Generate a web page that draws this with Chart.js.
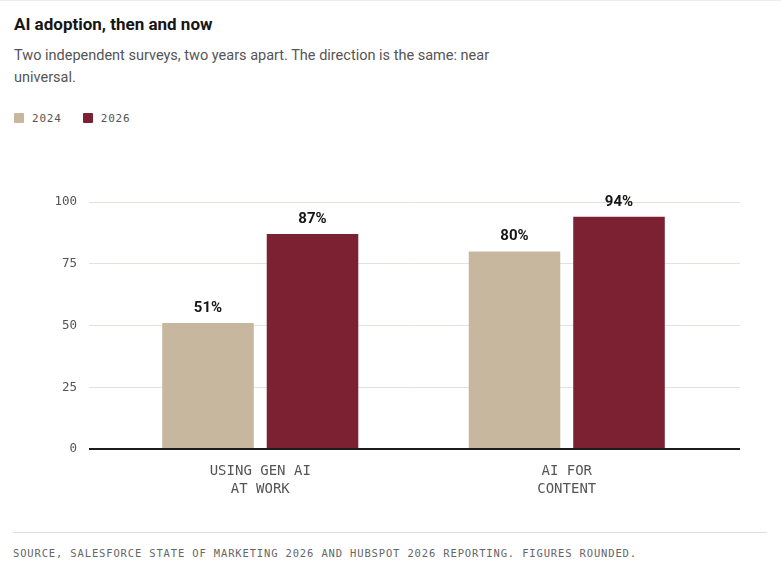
<!DOCTYPE html>
<html>
<head>
<meta charset="utf-8">
<script src="https://cdn.jsdelivr.net/npm/chart.js@4"></script>
<style>
  html, body { margin: 0; padding: 0; background: #ffffff; }
  body { width: 781px; height: 573px; position: relative; overflow: hidden; font-family: "Roboto", "Noto Sans", sans-serif; }
  .topline { position: absolute; left: 0; top: 0; width: 781px; height: 1px; background: #ececec; }
  #title { position: absolute; left: 14px; top: 13px; font-size: 17px; line-height: 22px; font-weight: 700; color: #161616; }
  #subtitle { position: absolute; left: 14px; top: 45px; font-size: 14.5px; line-height: 22px; color: #555; }
  #legend { position: absolute; left: 14px; top: 111px; height: 14px; display: flex; align-items: center; font-family: "DejaVu Sans Mono", monospace; font-size: 11px; letter-spacing: 0.8px; color: #555; }
  #legend .item { display: flex; align-items: center; margin-right: 21px; }
  #legend .sw { width: 10px; height: 10px; border-radius: 1px; margin-right: 8px; }
  #chartwrap { position: absolute; left: 0; top: 150px; width: 781px; height: 360px; }
  .sep { position: absolute; left: 13px; top: 532px; width: 754px; height: 1px; background: #e2ddd6; }
  #footer { position: absolute; left: 13px; top: 546px; font-family: "DejaVu Sans Mono", monospace; font-size: 10.5px; line-height: 14px; letter-spacing: 0.85px; color: #666; white-space: nowrap; }
</style>
</head>
<body>
<div class="topline"></div>
<div id="title">AI adoption, then and now</div>
<div id="subtitle">Two independent surveys, two years apart. The direction is the same: near<br>universal.</div>
<div id="legend"></div>
<div id="chartwrap"><canvas id="c"></canvas></div>
<div class="sep"></div>
<div id="footer">SOURCE, SALESFORCE STATE OF MARKETING 2026 AND HUBSPOT 2026 REPORTING. FIGURES ROUNDED.</div>
<script>
const categories = [["USING GEN AI", "AT WORK"], ["AI FOR", "CONTENT"]];
const seriesNames = ["2024", "2026"];
const values2024 = [51, 80];
const values2026 = [87, 94];
const yTicks = [0, 25, 50, 75, 100];
const seriesColors = ["#c7b79e", "#7b2132"];

// HTML legend built from series
const legendEl = document.getElementById('legend');
seriesNames.forEach((n, i) => {
  const it = document.createElement('div'); it.className = 'item';
  const sw = document.createElement('div'); sw.className = 'sw'; sw.style.background = seriesColors[i];
  const tx = document.createElement('span'); tx.textContent = n;
  it.appendChild(sw); it.appendChild(tx); legendEl.appendChild(it);
});

const gridColor = (ctx) => (ctx.tick && ctx.tick.value === 0) ? '#1c1c1c' : '#e7e2d9';
const gridWidth = (ctx) => (ctx.tick && ctx.tick.value === 0) ? 2 : 1;

const valueLabels = {
  id: 'valueLabels',
  afterDatasetsDraw(chart) {
    const ctx = chart.ctx;
    ctx.save();
    ctx.font = '700 15px "Roboto", "Noto Sans", sans-serif';
    ctx.fillStyle = '#161616';
    ctx.textAlign = 'center';
    ctx.textBaseline = 'middle';
    chart.data.datasets.forEach((ds, di) => {
      const meta = chart.getDatasetMeta(di);
      meta.data.forEach((bar, i) => {
        ctx.fillText(ds.data[i] + '%', bar.x, bar.y - 15);
      });
    });
    ctx.restore();
  }
};

new Chart(document.getElementById('c'), {
  type: 'bar',
  data: {
    labels: categories,
    datasets: [
      { label: seriesNames[0], data: values2024, backgroundColor: seriesColors[0], barPercentage: 0.876, categoryPercentage: 0.682 },
      { label: seriesNames[1], data: values2026, backgroundColor: seriesColors[1], barPercentage: 0.876, categoryPercentage: 0.682 }
    ]
  },
  options: {
    responsive: true,
    maintainAspectRatio: false,
    animation: false,
    layout: { padding: { left: 0, right: 41, top: 52, bottom: 0 } },
    plugins: { legend: { display: false }, tooltip: { enabled: false } },
    scales: {
      x: {
        grid: { display: false },
        border: { display: false },
        ticks: {
          color: '#555',
          padding: 5,
          font: { family: '"DejaVu Sans Mono", monospace', size: 14, lineHeight: 1.3 }
        },
        afterFit(s) { s.height = 61; }
      },
      y: {
        min: 0, max: 100,
        afterBuildTicks(s) { s.ticks = yTicks.map(v => ({ value: v })); },
        border: { display: false },
        grid: { color: gridColor, lineWidth: gridWidth, drawTicks: true, tickLength: 18 },
        ticks: {
          color: '#555',
          padding: 12,
          font: { family: '"DejaVu Sans Mono", monospace', size: 12.5 }
        },
        afterFit(s) { s.width = 107; }
      },
      y2: {
        position: 'right',
        min: 0, max: 100,
        afterBuildTicks(s) { s.ticks = yTicks.map(v => ({ value: v })); },
        border: { display: false },
        grid: { color: gridColor, lineWidth: gridWidth, drawOnChartArea: false, drawTicks: true, tickLength: 20 },
        ticks: { display: false },
        afterFit(s) { s.width = 20; }
      }
    }
  },
  plugins: [valueLabels]
});
</script>
</body>
</html>
